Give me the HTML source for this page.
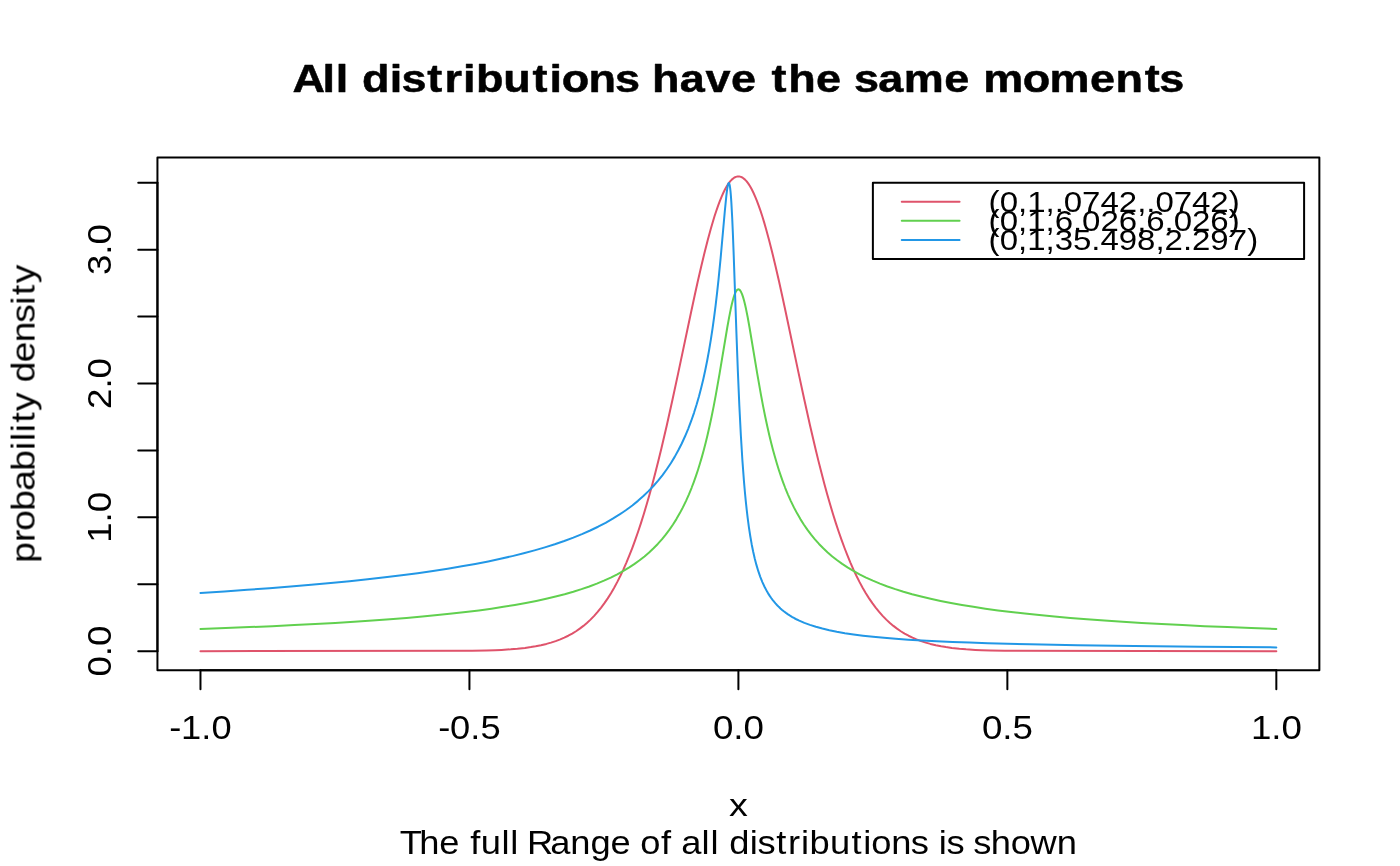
<!DOCTYPE html>
<html lang="en">
<head>
<meta charset="utf-8">
<title>All distributions have the same moments</title>
<style>
html,body{margin:0;padding:0;background:#fff;}
body{width:1400px;height:866px;overflow:hidden;font-family:"Liberation Sans",sans-serif;}
svg{display:block;}
svg text{font-family:"Liberation Sans",sans-serif;fill:#000;white-space:pre;}
.ln{fill:none;stroke:#000;stroke-width:2;stroke-linecap:round;stroke-linejoin:round;}
.cv{fill:none;stroke-width:2;stroke-linecap:round;stroke-linejoin:round;}
</style>
</head>
<body>
<svg width="1400" height="866" viewBox="0 0 1400 866">
<rect x="0" y="0" width="1400" height="866" fill="#ffffff"/>
<g id="curves">
<path class="cv" stroke="#DF536B" d="M200.47,651.17 L472.07,650.81 L486.41,650.49 L495.15,650.18 L501.51,649.88 L510.71,649.30 L517.41,648.72 L525.00,647.89 L530.87,647.07 L535.68,646.26 L540.99,645.20 L546.45,643.91 L551.01,642.63 L555.67,641.12 L560.29,639.38 L564.28,637.66 L568.26,635.73 L572.19,633.58 L576.03,631.23 L579.77,628.67 L583.39,625.91 L586.89,622.96 L590.51,619.61 L594.17,615.85 L597.65,611.93 L601.13,607.62 L604.44,603.17 L607.73,598.35 L610.98,593.19 L614.18,587.70 L617.33,581.88 L620.41,575.76 L623.44,569.33 L626.40,562.62 L629.37,555.45 L632.26,548.02 L635.16,540.18 L638.09,531.75 L640.95,523.12 L643.82,513.97 L646.71,504.32 L649.61,494.21 L652.49,483.68 L655.40,472.60 L658.37,460.87 L661.38,448.55 L666.76,425.49 L672.58,399.31 L678.15,373.34 L691.17,311.69 L694.67,295.48 L697.80,281.33 L701.33,265.95 L704.64,252.22 L707.76,239.93 L710.75,228.95 L712.65,222.41 L714.51,216.31 L716.34,210.70 L718.13,205.57 L719.90,200.86 L721.65,196.57 L723.36,192.73 L725.07,189.30 L726.76,186.27 L728.45,183.66 L730.12,181.44 L731.79,179.63 L733.45,178.23 L734.29,177.67 L735.11,177.23 L735.94,176.87 L736.76,176.63 L737.58,176.48 L738.40,176.43 L739.22,176.48 L740.04,176.63 L740.86,176.87 L741.69,177.23 L742.51,177.67 L743.35,178.23 L745.01,179.63 L746.68,181.44 L748.35,183.66 L750.04,186.27 L751.73,189.30 L753.44,192.73 L755.15,196.57 L756.90,200.86 L758.67,205.57 L760.46,210.70 L762.29,216.31 L764.15,222.41 L766.05,228.95 L769.04,239.93 L772.16,252.22 L775.47,265.95 L779.00,281.33 L782.13,295.48 L785.63,311.69 L798.65,373.34 L804.22,399.31 L810.04,425.49 L815.42,448.55 L818.43,460.87 L821.40,472.60 L824.31,483.68 L827.19,494.21 L830.09,504.32 L832.98,513.97 L835.85,523.12 L838.71,531.75 L841.64,540.18 L844.54,548.02 L847.43,555.45 L850.40,562.62 L853.36,569.33 L856.39,575.76 L859.47,581.88 L862.62,587.70 L865.82,593.19 L869.07,598.35 L872.36,603.17 L875.67,607.62 L879.15,611.93 L882.63,615.85 L886.29,619.61 L889.91,622.96 L893.41,625.91 L897.03,628.67 L900.77,631.23 L904.61,633.58 L908.54,635.73 L912.52,637.66 L916.51,639.38 L921.13,641.12 L925.79,642.63 L930.35,643.91 L935.81,645.20 L941.12,646.26 L945.93,647.07 L951.80,647.89 L959.39,648.72 L966.09,649.30 L975.29,649.88 L981.65,650.18 L990.39,650.49 L1004.73,650.81 L1276.33,651.17"/>
<path class="cv" stroke="#61D04F" d="M200.47,628.96 L225.58,628.06 L249.40,627.12 L272.29,626.14 L294.28,625.11 L315.13,624.04 L335.16,622.93 L354.15,621.77 L372.39,620.55 L389.90,619.27 L406.48,617.95 L422.41,616.56 L437.49,615.11 L451.97,613.60 L465.68,612.03 L478.83,610.39 L491.45,608.66 L503.40,606.86 L514.86,604.98 L525.85,602.99 L536.24,600.94 L546.20,598.78 L555.63,596.54 L564.66,594.19 L573.32,591.71 L581.50,589.15 L589.34,586.45 L596.85,583.61 L603.95,580.67 L610.75,577.58 L617.26,574.32 L623.40,570.95 L629.29,567.40 L634.59,563.90 L639.60,560.29 L644.49,556.44 L649.11,552.47 L653.54,548.31 L657.79,543.95 L661.87,539.38 L665.72,534.67 L669.47,529.66 L673.01,524.50 L676.41,519.11 L679.71,513.37 L682.89,507.38 L685.93,501.11 L688.84,494.57 L691.63,487.76 L693.79,482.05 L695.89,476.16 L697.95,469.96 L699.94,463.57 L701.90,456.86 L703.79,449.96 L705.66,442.74 L707.49,435.20 L709.58,426.03 L711.62,416.50 L713.66,406.33 L715.73,395.40 L719.57,373.66 L727.23,327.74 L729.11,317.31 L730.75,309.08 L731.82,304.29 L732.83,300.26 L733.81,296.87 L734.76,294.13 L735.69,292.03 L736.61,290.53 L737.07,290.00 L737.50,289.64 L737.96,289.41 L738.40,289.34 L738.84,289.41 L739.30,289.64 L739.73,290.00 L740.19,290.53 L741.11,292.03 L742.04,294.13 L742.99,296.87 L743.97,300.26 L744.98,304.29 L746.05,309.08 L747.69,317.31 L749.57,327.74 L757.23,373.66 L761.07,395.40 L763.14,406.33 L765.18,416.50 L767.22,426.03 L769.31,435.20 L771.14,442.74 L773.01,449.96 L774.90,456.86 L776.86,463.57 L778.85,469.96 L780.91,476.16 L783.01,482.05 L785.17,487.76 L787.96,494.57 L790.87,501.11 L793.91,507.38 L797.09,513.37 L800.39,519.11 L803.79,524.50 L807.33,529.66 L811.08,534.67 L814.93,539.38 L819.01,543.95 L823.26,548.31 L827.69,552.47 L832.31,556.44 L837.20,560.29 L842.21,563.90 L847.51,567.40 L853.40,570.95 L859.54,574.32 L866.05,577.58 L872.85,580.67 L879.95,583.61 L887.46,586.45 L895.30,589.15 L903.48,591.71 L912.14,594.19 L921.17,596.54 L930.60,598.78 L940.56,600.94 L950.95,602.99 L961.94,604.98 L973.40,606.86 L985.35,608.66 L997.97,610.39 L1011.12,612.03 L1024.83,613.60 L1039.31,615.11 L1054.39,616.56 L1070.32,617.95 L1086.90,619.27 L1104.41,620.55 L1122.65,621.77 L1141.64,622.93 L1161.67,624.04 L1182.52,625.11 L1204.51,626.14 L1227.40,627.12 L1251.22,628.06 L1276.33,628.96"/>
<path class="cv" stroke="#2297E6" d="M200.47,592.90 L224.38,591.39 L247.33,589.83 L269.46,588.21 L290.68,586.54 L311.13,584.81 L330.72,583.03 L349.59,581.18 L367.66,579.27 L385.05,577.30 L401.68,575.26 L417.68,573.14 L432.97,570.96 L447.67,568.70 L461.79,566.35 L475.26,563.92 L488.20,561.40 L500.53,558.80 L512.36,556.10 L523.71,553.30 L534.51,550.40 L544.86,547.39 L554.78,544.27 L564.26,541.01 L573.34,537.63 L581.96,534.14 L590.20,530.51 L598.08,526.73 L605.60,522.80 L612.77,518.71 L619.62,514.45 L622.91,512.26 L626.15,510.02 L629.29,507.74 L632.33,505.43 L637.97,500.86 L643.40,496.08 L648.51,491.15 L653.43,485.99 L658.11,480.62 L662.55,475.05 L666.78,469.26 L670.83,463.18 L674.67,456.86 L678.31,450.29 L681.77,443.46 L685.07,436.29 L688.20,428.83 L691.19,420.98 L694.02,412.81 L696.69,404.31 L699.02,396.20 L701.21,387.82 L703.34,378.96 L705.34,369.80 L707.25,360.23 L709.10,350.10 L710.84,339.65 L712.52,328.60 L714.08,317.41 L715.59,305.61 L717.04,293.22 L718.46,280.07 L720.63,258.03 L724.83,210.97 L726.33,195.93 L727.03,190.20 L727.69,186.15 L728.00,184.76 L728.29,183.80 L728.57,183.25 L728.70,183.11 L728.84,183.07 L729.06,183.21 L729.27,183.60 L729.70,185.21 L730.12,187.86 L730.53,191.52 L730.94,196.33 L731.35,202.33 L732.20,218.03 L732.86,233.03 L733.60,252.11 L736.45,333.83 L737.83,370.42 L739.33,405.48 L740.87,435.46 L742.39,460.22 L743.99,481.66 L744.87,491.75 L745.75,500.94 L746.69,509.73 L747.63,517.68 L748.92,527.33 L750.25,536.01 L751.67,544.18 L753.14,551.51 L754.79,558.72 L756.49,565.16 L758.31,571.19 L760.27,576.83 L762.38,582.10 L764.65,587.02 L767.10,591.61 L768.45,593.89 L769.73,595.88 L771.19,598.00 L772.57,599.86 L775.48,603.39 L777.17,605.23 L778.77,606.84 L780.42,608.40 L782.14,609.90 L784.09,611.50 L785.94,612.89 L788.05,614.37 L790.04,615.67 L792.32,617.04 L794.47,618.24 L796.92,619.52 L799.24,620.63 L804.38,622.85 L809.92,624.91 L815.90,626.81 L822.35,628.58 L829.30,630.22 L836.79,631.73 L844.87,633.14 L853.58,634.44 L862.97,635.65 L873.08,636.77 L883.98,637.81 L895.73,638.77 L908.39,639.66 L922.02,640.48 L936.71,641.25 L952.53,641.96 L969.57,642.62 L987.91,643.23 L1007.66,643.79 L1029.97,644.34 L1077.65,645.27 L1134.27,646.09 L1200.02,646.80 L1276.33,647.40"/>
</g>
<g id="axes" class="ln">
<path d="M200.47,670.16 L1276.33,670.16"/>
<path d="M200.47,670.16 L200.47,689.36"/>
<path d="M469.44,670.16 L469.44,689.36"/>
<path d="M738.40,670.16 L738.40,689.36"/>
<path d="M1007.36,670.16 L1007.36,689.36"/>
<path d="M1276.33,670.16 L1276.33,689.36"/>
<path d="M157.44,651.17 L157.44,182.73"/>
<path d="M157.44,651.17 L138.24,651.17"/>
<path d="M157.44,584.25 L138.24,584.25"/>
<path d="M157.44,517.33 L138.24,517.33"/>
<path d="M157.44,450.41 L138.24,450.41"/>
<path d="M157.44,383.49 L138.24,383.49"/>
<path d="M157.44,316.57 L138.24,316.57"/>
<path d="M157.44,249.65 L138.24,249.65"/>
<path d="M157.44,182.73 L138.24,182.73"/>
<rect x="157.44" y="157.44" width="1161.92" height="512.72"/>
</g>
<g id="legend">
<rect class="ln" style="fill:#fff" x="872.88" y="182.73" width="431.22" height="76.20"/>
<path class="cv" stroke="#DF536B" d="M901.78,201.78 L959.58,201.78"/>
<path class="cv" stroke="#61D04F" d="M901.78,220.83 L959.58,220.83"/>
<path class="cv" stroke="#2297E6" d="M901.78,239.88 L959.58,239.88"/>
</g>
<g id="labels" opacity="0.999">
<text transform="translate(738.40,92.30) scale(1.1516,1)" x="-387.13 -361.05 -349.62 -338.47 -326.87 -302.71 -292.47 -270.23 -255.17 -239.05 -227.92 -204.13 -178.81 -164.07 -153.42 -130.12 -107.19 -86.43 -74.93 -50.84 -28.58 -6.41 15.77 28.86 43.21 67.49 89.67 100.36 121.36 143.58 178.80 200.99 212.55 246.84 270.20 305.42 327.50 352.83 365.46" font-size="39.12" font-weight="bold" stroke="#000" stroke-width="0.5" stroke-linejoin="round">All distributions have the same moments</text>
<text transform="translate(200.47,739.28) scale(1.0956,1)" x="-28.50 -17.85 0.68 10.12" font-size="33.13">-1.0</text>
<text transform="translate(469.44,739.28) scale(1.0956,1)" x="-28.50 -17.85 0.68 10.12" font-size="33.13">-0.5</text>
<text transform="translate(738.40,739.28) scale(1.1078,1)" x="-22.97 -4.59 4.59" font-size="33.13">0.0</text>
<text transform="translate(1007.36,739.28) scale(1.1078,1)" x="-22.97 -4.59 4.59" font-size="33.13">0.5</text>
<text transform="translate(1276.33,739.28) scale(1.1078,1)" x="-22.97 -4.59 4.59" font-size="33.13">1.0</text>
<text transform="translate(738.40,816.08) scale(1.1724,1)" x="-8.08" font-size="32.14">x</text>
<text transform="translate(738.40,854.48) scale(1.1171,1)" x="-303.23 -285.61 -267.72 -249.86 -239.98 -230.64 -212.14 -204.18 -196.60 -189.31 -168.50 -150.63 -132.48 -114.57 -96.71 -87.88 -69.30 -59.99 -51.17 -32.95 -24.99 -17.41 -8.28 10.26 17.16 33.85 44.50 56.15 63.76 81.94 101.16 111.68 118.97 136.81 154.25 169.86 179.34 186.24 201.85 210.27 225.91 243.75 261.53 285.05" font-size="32.51">The full Range of all distributions is shown</text>
<text transform="translate(111.36,651.17) rotate(-90) scale(1.1078,1)" x="-22.97 -4.59 4.59" font-size="33.13">0.0</text>
<text transform="translate(111.36,517.33) rotate(-90) scale(1.1078,1)" x="-22.97 -4.59 4.59" font-size="33.13">1.0</text>
<text transform="translate(111.36,383.49) rotate(-90) scale(1.1078,1)" x="-22.97 -4.59 4.59" font-size="33.13">2.0</text>
<text transform="translate(111.36,249.65) rotate(-90) scale(1.1078,1)" x="-22.97 -4.59 4.59" font-size="33.13">3.0</text>
<text transform="translate(34.56,413.80) rotate(-90) scale(1.1484,1)" x="-129.85 -111.81 -101.83 -84.48 -67.10 -49.72 -31.54 -23.80 -16.06 -7.65 2.41 18.82 27.47 44.89 62.30 79.29 94.96 103.37 113.51" font-size="32.51">probability density</text>
<text transform="translate(988.48,211.93) scale(1.1279,1)" x="0.00 9.93 26.24 34.29 50.60 58.72 66.77 83.02 99.26 115.51 131.82 139.93 147.99 164.23 180.48 196.73 213.14" font-size="29.27">(0,1,.0742,.0742)</text>
<text transform="translate(988.48,230.98) scale(1.1279,1)" x="0.00 9.93 26.24 34.29 50.60 58.66 74.96 83.02 99.26 115.51 131.82 139.87 156.18 164.23 180.48 196.73 213.14" font-size="29.27">(0,1,6.026,6.026)</text>
<text transform="translate(988.48,250.03) scale(1.1276,1)" x="0.00 9.94 26.25 34.30 50.62 58.67 74.92 91.23 99.29 115.54 131.79 148.10 156.16 172.47 180.53 196.78 213.03 229.45" font-size="29.27">(0,1,35.498,2.297)</text>
</g>
</svg>
</body>
</html>
